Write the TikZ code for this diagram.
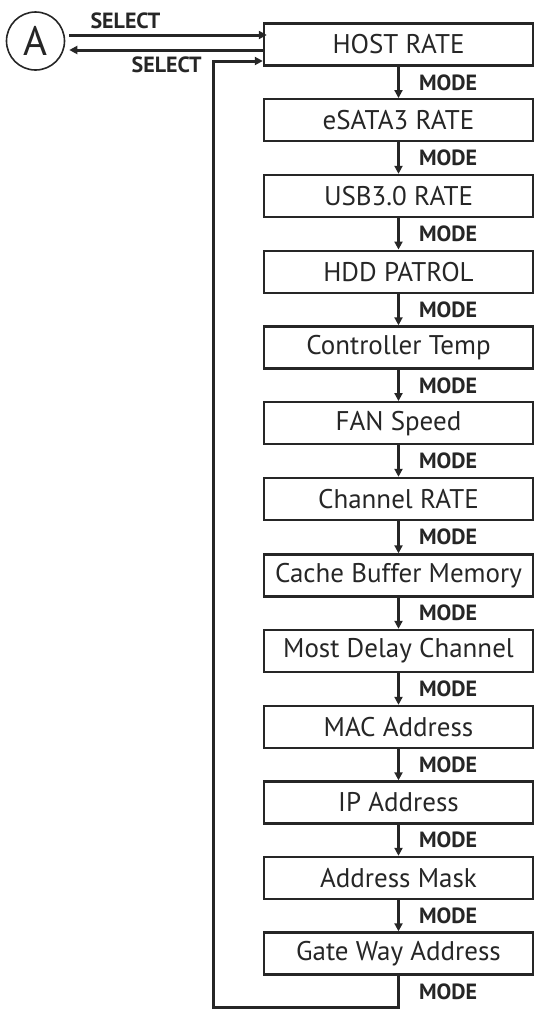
\documentclass[tikz,border=0pt]{standalone}
\usepackage{fontspec}
\setmainfont{PT Sans}
\usetikzlibrary{arrows.meta}

\begin{document}
\begin{tikzpicture}[x=1pt, y=1pt, line width=3pt, color=black!85,
	menu/.style={draw, line width=2.4pt, minimum width=269pt, minimum height=42pt, inner sep=0pt, font=\fontsize{27}{27}\selectfont},
	key/.style={inner sep=0pt, anchor=west, font=\fontsize{22}{22}\selectfont\bfseries},
	>={Triangle[length=8pt, width=8pt]}]
	\useasboundingbox (0,0) rectangle (543,-1015);
	
	\node[circle, draw, line width=1.6pt, minimum size=58pt, inner sep=0pt, font=\fontsize{41}{41}\selectfont] (A) at (35.5,-41) {A};
	
	\node[menu] (b1) at (398.5,-44.5) {HOST RATE};
	\node[menu] (b2) at (398.5,-120.25) {eSATA3 RATE};
	\node[menu] (b3) at (398.5,-196) {USB3.0 RATE};
	\node[menu] (b4) at (398.5,-271.75) {HDD PATROL};
	\node[menu] (b5) at (398.5,-347.5) {Controller Temp};
	\node[menu] (b6) at (398.5,-423.25) {FAN Speed};
	\node[menu] (b7) at (398.5,-499) {Channel RATE};
	\node[menu] (b8) at (398.5,-575.5) {Cache Buffer Memory};
	\node[menu] (b9) at (398.5,-651) {Most Delay Channel};
	\node[menu] (b10) at (398.5,-727) {MAC Address};
	\node[menu] (b11) at (398.5,-802.5) {IP Address};
	\node[menu] (b12) at (398.5,-878) {Address Mask};
	\node[menu] (b13) at (398.5,-953.5) {Gate Way Address};
	
	\draw[->] (b1) -- (b2) node[key, pos=0.5, xshift=19pt] (m1) {MODE};
	\draw[->] (b2) -- (b3) node[key, pos=0.5, xshift=19pt] (m2) {MODE};
	\draw[->] (b3) -- (b4) node[key, pos=0.5, xshift=19pt] (m3) {MODE};
	\draw[->] (b4) -- (b5) node[key, pos=0.5, xshift=19pt] (m4) {MODE};
	\draw[->] (b5) -- (b6) node[key, pos=0.5, xshift=19pt] (m5) {MODE};
	\draw[->] (b6) -- (b7) node[key, pos=0.5, xshift=19pt] (m6) {MODE};
	\draw[->] (b7) -- (b8) node[key, pos=0.5, xshift=19pt] (m7) {MODE};
	\draw[->] (b8) -- (b9) node[key, pos=0.5, xshift=19pt] (m8) {MODE};
	\draw[->] (b9) -- (b10) node[key, pos=0.5, xshift=19pt] (m9) {MODE};
	\draw[->] (b10) -- (b11) node[key, pos=0.5, xshift=19pt] (m10) {MODE};
	\draw[->] (b11) -- (b12) node[key, pos=0.5, xshift=19pt] (m11) {MODE};
	\draw[->] (b12) -- (b13) node[key, pos=0.5, xshift=19pt] (m12) {MODE};
	
	\coordinate (loopA) at (213,-1007);
	\coordinate (loopB) at (213,-61);
	\draw[->] (b13.south) -- (b13.south |- loopA) node[key, pos=0.5, xshift=19pt] (m13) {MODE} -- (loopA) -- (loopB) -- (loopB -| b1.west);
	
	\draw[->] ([shift={(4,6)}]A.east) -- ([shift={(4,6)}]A.east -| b1.west) node[key, pos=0.1, above=5pt, anchor=south west] (s1) {SELECT};
	\draw[->] ([yshift=-9pt]b1.west |- A.east) -- ([shift={(4,-9)}]A.east);
	\node[key, anchor=east] (s2) at (203,-65) {SELECT};
\end{tikzpicture}
\end{document}
